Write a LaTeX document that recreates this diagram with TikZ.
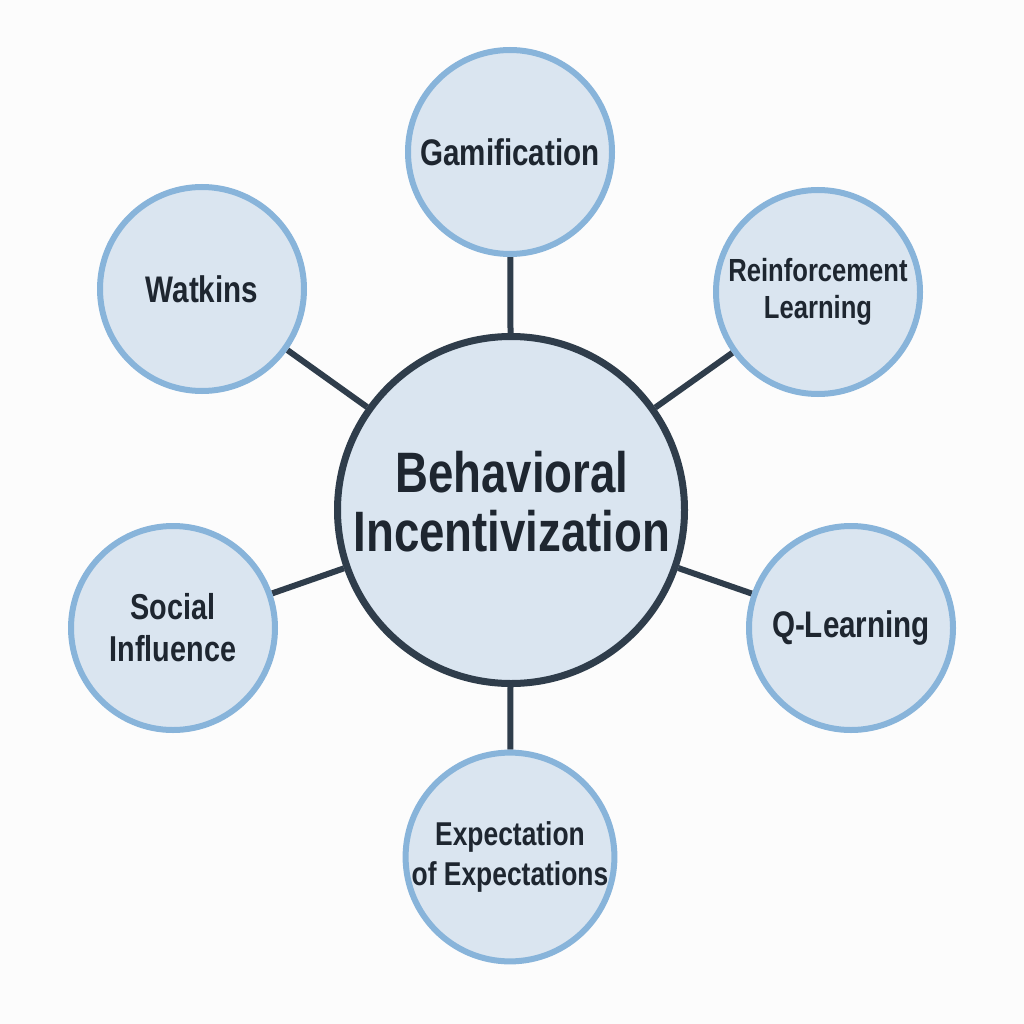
\documentclass[tikz,border=0pt]{standalone}
\usepackage{fontspec}
\usetikzlibrary{backgrounds}
\setmainfont{Liberation Sans}[FakeStretch=0.8]
\definecolor{bg}{HTML}{FCFCFC}
\definecolor{cfill}{HTML}{DAE5F0}
\definecolor{cring}{HTML}{88B4DA}
\definecolor{cdark}{HTML}{2F3D4B}
\definecolor{ctext}{HTML}{1E2630}
\begin{document}
\begin{tikzpicture}[x=1pt,y=-1pt,
  hub/.style={circle,draw=cdark,line width=7pt,fill=cfill,minimum size=347pt,inner sep=0pt},
  hubtext/.style={inner sep=0pt,align=center,text=ctext,font=\bfseries\fontsize{57}{62}\selectfont},
  leaf/.style={circle,draw=cring,line width=6pt,fill=cfill,minimum size=204pt,inner sep=0pt,align=center,text=ctext},
  link/.style={draw=cdark,line width=6pt}]
\useasboundingbox (0,0) rectangle (1024,1024);
\node[hub] (c) at (511,510) {};
\node[hubtext] (ct) at (512,502) {Behavioral\\[-3pt]Incentivization};
\node[leaf,font=\bfseries\fontsize{37}{42}\selectfont] (g) at (510,152) {Gamification};
\node[leaf,font=\bfseries\fontsize{32}{37}\selectfont] (r) at (818,292) {Reinforcement\\Learning};
\node[leaf,font=\bfseries\fontsize{37}{42}\selectfont] (q) at (851,628) {Q-Learning};
\node[leaf,font=\bfseries\fontsize{33}{40}\selectfont] (e) at (510,857) {Expectation\\of Expectations};
\node[leaf,font=\bfseries\fontsize{36}{42}\selectfont] (s) at (173,628) {Social\\Influence};
\node[leaf,font=\bfseries\fontsize{37}{42}\selectfont] (w) at (202,289) {Watkins};
\begin{scope}[on background layer]
\fill[bg] (0,0) rectangle (1024,1024);
\foreach \n in {g,r,q,e,s,w} {\draw[link] (c) -- (\n);}
\end{scope}
\end{tikzpicture}
\end{document}
